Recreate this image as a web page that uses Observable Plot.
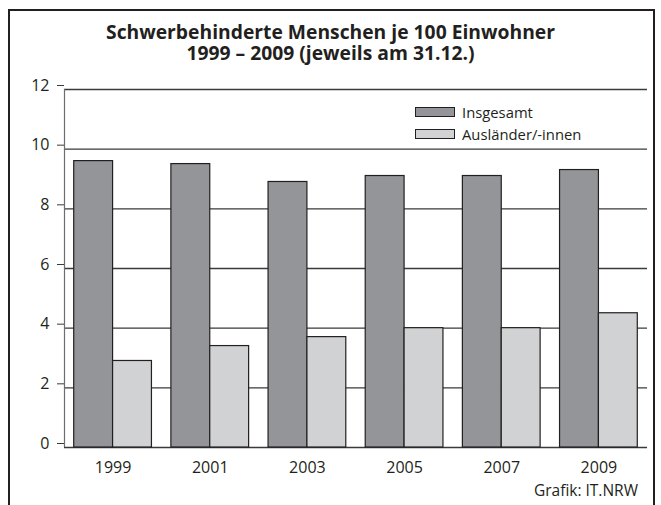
<!DOCTYPE html>
<html>
<head>
<meta charset="utf-8">
<script src="https://cdn.jsdelivr.net/npm/d3@7"></script>
<script src="https://cdn.jsdelivr.net/npm/@observablehq/plot@0.6"></script>
<style>
  html, body { margin: 0; padding: 0; background: #fff; }
  #wrap { position: relative; width: 661px; height: 505px; overflow: hidden; font-family: "Open Sans", sans-serif; color: #231f20; }
  #frame { position: absolute; left: 8px; top: 9px; width: 643px; height: 520px; border: 2.5px solid #231f20; border-bottom: none; }
  #title { position: absolute; left: 0; width: 661px; top: 21px; text-align: center; font-weight: bold; font-size: 19.3px; line-height: 21px; }
  #chart { position: absolute; left: 0; top: 0; }
  #chart svg text { font-size: 16px; fill: #231f20; }
  #legend { position: absolute; left: 415px; top: 101px; font-size: 14.8px; line-height: 22px; }
  .item { display: flex; align-items: center; }
  .sw { width: 38px; height: 8px; border: 1px solid #231f20; margin-right: 7px; }
  #caption { position: absolute; right: 23px; top: 479px; font-size: 15.5px; }
</style>
</head>
<body>
<div id="wrap">
  <div id="frame"></div>
  <div id="title">Schwerbehinderte Menschen je 100 Einwohner<br>1999 – 2009 (jeweils am 31.12.)</div>
  <div id="chart"></div>
  <div id="legend"></div>
  <div id="caption">Grafik: IT.NRW</div>
</div>
<script>
const years = [1999, 2001, 2003, 2005, 2007, 2009];
const series = ["Insgesamt", "Ausländer/-innen"];
const insgesamt = [9.6, 9.5, 8.9, 9.1, 9.1, 9.3];
const auslaender = [2.9, 3.4, 3.7, 4.0, 4.0, 4.5];
const yTicks = [0, 2, 4, 6, 8, 10, 12];
const colors = ["#939598", "#d1d2d4"];

// each year group: first series left of the year, second right of it (width 0.8 years each)
const barW = 0.8;
const data = [];
years.forEach((yr, i) => {
  data.push({year: yr, series: series[0], value: insgesamt[i], x1: yr - barW, x2: yr});
  data.push({year: yr, series: series[1], value: auslaender[i], x1: yr, x2: yr + barW});
});

const plot = Plot.plot({
  width: 661,
  height: 505,
  marginTop: 89,
  marginBottom: 58,
  marginLeft: 64,
  marginRight: 14,
  style: {fontFamily: "Open Sans, sans-serif", fontSize: "16px", color: "#231f20", background: "transparent"},
  x: {domain: [1998, 2010], ticks: years, tickFormat: d => String(d)},
  y: {domain: [0, 12], ticks: yTicks},
  color: {domain: series, range: colors},
  marks: [
    Plot.ruleY(yTicks, {stroke: "#3a3a3a", strokeWidth: 1.4}),
    Plot.ruleX([1998], {y1: 0, y2: 12, stroke: "#6d6e71", strokeWidth: 1.2}),
    Plot.rectY(data, {x1: "x1", x2: "x2", y: "value", fill: "series", stroke: "#231f20", strokeWidth: 1.2}),
    Plot.axisY({ticks: yTicks, tickSize: 7, tickPadding: 8, dy: -4, stroke: "#3a3a3a", label: null}),
    Plot.axisX({ticks: years, tickSize: 0, tickPadding: 14, label: null, tickFormat: d => String(d)})
  ]
});
document.getElementById("chart").appendChild(plot);

const legend = document.getElementById("legend");
series.forEach((s, i) => {
  const it = document.createElement("div");
  it.className = "item";
  const sw = document.createElement("div");
  sw.className = "sw";
  sw.style.background = colors[i];
  it.appendChild(sw);
  const t = document.createElement("span");
  t.textContent = s;
  it.appendChild(t);
  legend.appendChild(it);
});
</script>
</body>
</html>
